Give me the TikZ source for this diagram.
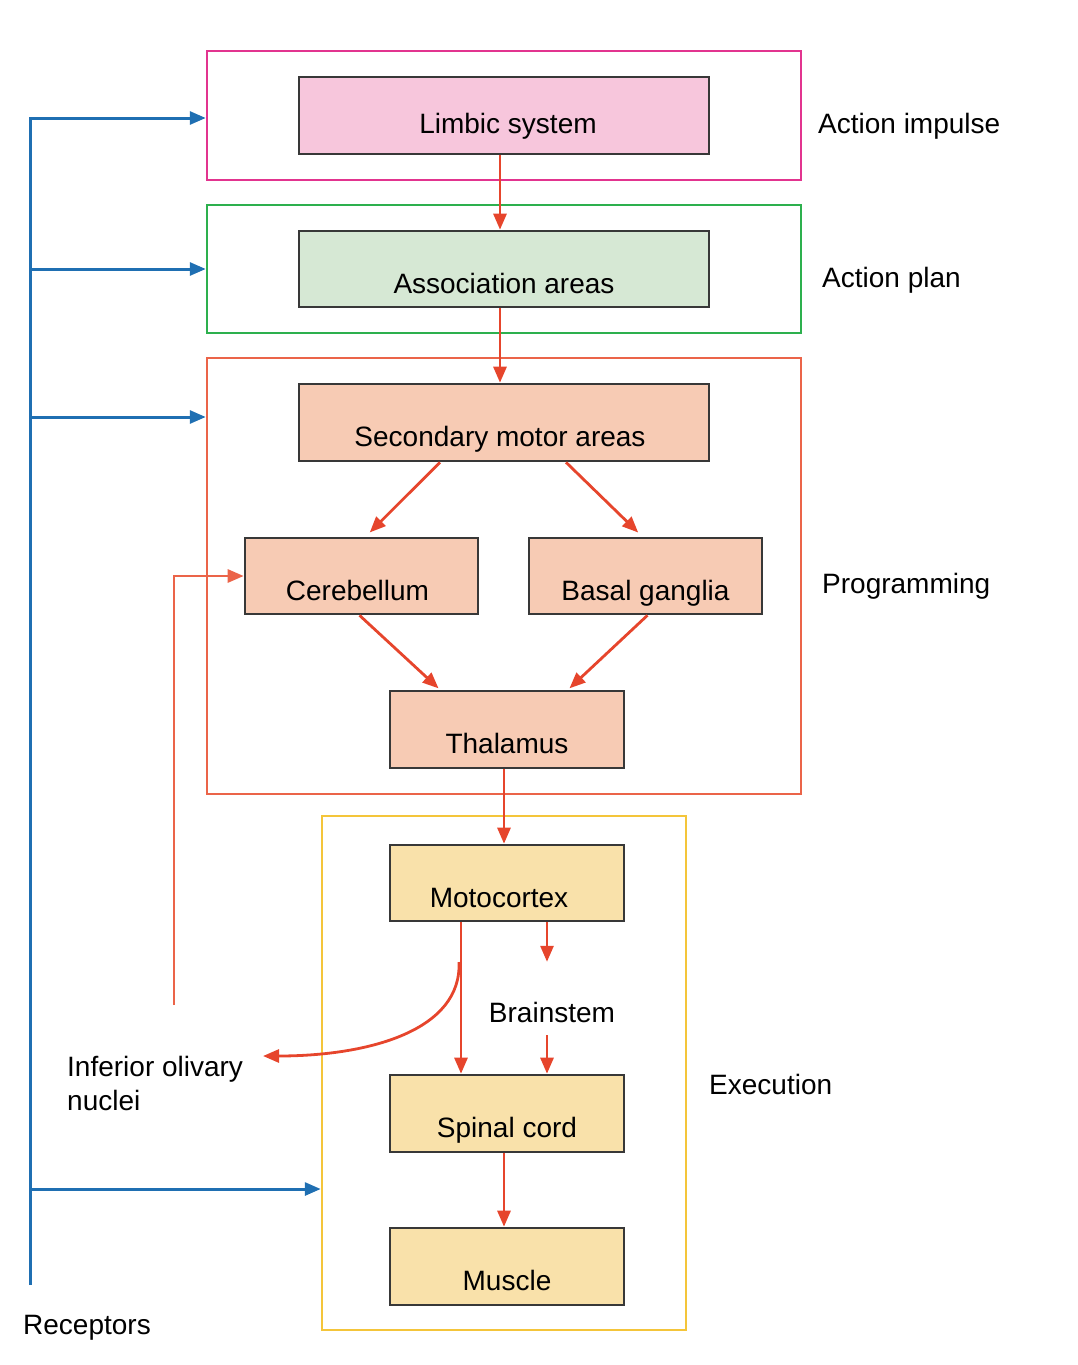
\documentclass[tikz,border=0pt]{standalone}
\usepackage{fontspec}
\setmainfont{Liberation Sans}
\usetikzlibrary{arrows.meta}

\definecolor{impulsecol}{HTML}{E2348F}
\definecolor{plancol}{HTML}{2DB04E}
\definecolor{progcol}{HTML}{EB6449}
\definecolor{execcol}{HTML}{F4C53A}
\definecolor{limbicfill}{HTML}{F7C6DC}
\definecolor{assocfill}{HTML}{D6E8D4}
\definecolor{progfill}{HTML}{F7CBB4}
\definecolor{execfill}{HTML}{F9E1AA}
\definecolor{sigred}{HTML}{E6452C}
\definecolor{recblue}{HTML}{1F6FB2}

\tikzset{
  frame/.style={draw, line width=2.5pt, inner sep=0pt, minimum width=594pt},
  area/.style={draw=black!78, line width=2.6pt, inner sep=0pt, text height=50pt, text depth=2pt,
    font=\fontsize{28}{34}\selectfont},
  tag/.style={anchor=base west, inner sep=0pt, font=\fontsize{28}{34}\selectfont},
  sig/.style={->, color=sigred, line width=2.8pt},
  feed/.style={->, color=recblue, line width=3pt}
}

\begin{document}
\begin{tikzpicture}[x=1pt, y=-1pt, >={Triangle[length=16pt,width=13pt]}]
    \useasboundingbox (0,0) rectangle (1078,1365);

    % frames
    \node[frame, draw=impulsecol, minimum height=129pt] (impulse) at (504,115.5) {};
    \node[frame, draw=plancol, minimum height=128pt] (plan) at (504,269) {};
    \node[frame, draw=progcol, minimum height=436pt] (prog) at (504,576) {};
    \node[frame, draw=execcol, minimum width=364pt, minimum height=514pt] (exec) at (504,1073) {};

    % boxes
    \node[area, fill=limbicfill, text height=38pt, minimum width=410pt, minimum height=77pt] (limbic) at (504,115.5) {\hspace*{8pt}Limbic system};
    \node[area, fill=assocfill, minimum width=410pt, minimum height=76pt] (assoc) at (504,269) {Association areas};
    \node[area, fill=progfill, minimum width=410pt, minimum height=77pt] (second) at (504,422.5) {Secondary motor areas\hspace*{8pt}};
    \node[area, fill=progfill, minimum width=233pt, minimum height=76pt] (cereb) at (361.5,576) {Cerebellum\hspace*{8pt}};
    \node[area, fill=progfill, minimum width=233pt, minimum height=76pt] (basal) at (645.5,576) {Basal ganglia};
    \node[area, fill=progfill, minimum width=234pt, minimum height=77pt] (thal) at (507,729.5) {Thalamus};
    \node[area, fill=execfill, minimum width=234pt, minimum height=76pt] (motor) at (507,883) {Motocortex\hspace*{16pt}};
    \node[area, fill=execfill, minimum width=234pt, minimum height=77pt] (spinal) at (507,1113.5) {Spinal cord};
    \node[area, fill=execfill, minimum width=234pt, minimum height=77pt] (muscle) at (507,1266.5) {Muscle};

    % labels
    \node[tag] (impulsetag) at (818,133) {Action impulse};
    \node[tag] (plantag) at (822,287) {Action plan};
    \node[tag] (progtag) at (822,593) {Programming};
    \node[tag] (exectag) at (709,1094) {Execution};
    \node[tag, anchor=base, text height=60pt, text depth=13pt] (brain) at (552,1022) {Brainstem};
    \node[tag, align=left] (olive) at (67,1110) {Inferior olivary\\nuclei};
    \node[tag] (recep) at (23,1334) {Receptors};

    \coordinate (rbot) at (30,1285);
    \coordinate (branch) at (459,962);
    \coordinate (olivein) at (263,1056);
    \coordinate (oliveout) at (174,1005);

    % signal flow
    \draw[sig] ([xshift=-4pt]limbic.south) -- ([xshift=-4pt]assoc.north);
    \draw[sig] ([xshift=-4pt]assoc.south) -- ([xshift=-4pt]second.north);
    \draw[sig, shorten >=6pt] ([xshift=-64pt]second.south) -- ([xshift=4pt]cereb.north);
    \draw[sig, shorten >=6pt] ([xshift=62pt]second.south) -- ([xshift=-3pt]basal.north);
    \draw[sig, shorten >=2pt] ([xshift=-2pt]cereb.south) -- ([xshift=-67pt]thal.north);
    \draw[sig, shorten >=2pt] ([xshift=2pt]basal.south) -- ([xshift=61pt]thal.north);
    \draw[sig] ([xshift=-3pt]thal.south) -- ([xshift=-3pt]motor.north);
    \draw[sig] ([xshift=-46pt]motor.south) -- ([xshift=-46pt]spinal.north);
    \draw[sig] ([xshift=-5pt]brain.north |- motor.south) -- ([xshift=-5pt]brain.north);
    \draw[sig] ([xshift=-5pt]brain.south) -- ([xshift=-5pt]brain.south |- spinal.north);
    \draw[sig] ([xshift=-3pt]spinal.south) -- ([xshift=-3pt]muscle.north);
    \draw[sig] (branch) .. controls (462,1030) and (370,1056) .. (olivein);
    \draw[sig, color=progcol] (oliveout) |- (cereb.west);

    % receptors
    \draw[feed] (rbot) |- ([yshift=-2.5pt]impulse.west);
    \draw[feed] (rbot |- plan.west) -- (plan.west);
    \draw[feed] (rbot |- 0,417) -- (prog.west |- 0,417);
    \draw[feed] (rbot |- 0,1189) -- (exec.west |- 0,1189);
\end{tikzpicture}
\end{document}
